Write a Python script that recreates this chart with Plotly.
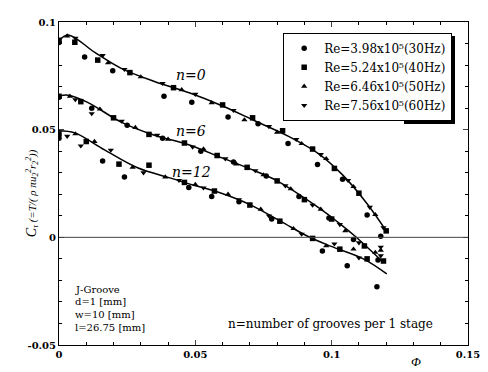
import plotly.graph_objects as go

# ---- data ----
# fitted curves for n = 0, 6, 12
curve_n0_x = [0, 0.0034, 0.013, 0.0228, 0.035, 0.048, 0.060, 0.072, 0.084, 0.095, 0.104, 0.113, 0.120]
curve_n0_y = [0.0914, 0.094, 0.086, 0.0785, 0.0724, 0.067, 0.061, 0.054, 0.047, 0.039, 0.029, 0.0156, 0.003]
curve_n6_x = [0, 0.0034, 0.0105, 0.0228, 0.035, 0.047, 0.060, 0.072, 0.080, 0.0948, 0.102, 0.1086, 0.119]
curve_n6_y = [0.0656, 0.066, 0.0627, 0.0535, 0.0474, 0.0432, 0.0368, 0.0308, 0.0262, 0.0141, 0.0073, 0.0005, -0.0117]
curve_n12_x = [0, 0.0058, 0.0167, 0.0288, 0.041, 0.0494, 0.0585, 0.070, 0.0815, 0.0912, 0.0996, 0.1118, 0.1202]
curve_n12_y = [0.0495, 0.0485, 0.0406, 0.0323, 0.0275, 0.0242, 0.0209, 0.0152, 0.0073, 0.0005, -0.0041, -0.0101, -0.017]

# measured points (n=0, n=6, n=12 concatenated) per Reynolds number
re30_x = [0, 0.0094, 0.0197, 0.0385, 0.0487, 0.062, 0.073, 0.084, 0.0948, 0.104, 0.113, 0.118,
          0, 0.012, 0.025, 0.038, 0.052, 0.064, 0.076, 0.088, 0.099, 0.108, 0.117,
          0, 0.016, 0.024, 0.0476, 0.056, 0.066, 0.078, 0.0966, 0.1057, 0.1166]
re30_y = [0.0905, 0.0838, 0.0774, 0.0655, 0.0627, 0.0559, 0.0527, 0.0436, 0.0338, 0.027, 0.0104, 0.0005,
          0.0650, 0.060, 0.052, 0.046, 0.040, 0.035, 0.0285, 0.019, 0.009, -0.001, -0.0105,
          0.046, 0.0355, 0.028, 0.0232, 0.019, 0.0165, 0.0085, -0.0064, -0.0132, -0.023]
re40_x = [0, 0.0058, 0.0142, 0.026, 0.042, 0.060, 0.071, 0.082, 0.093, 0.101, 0.110, 0.120,
          0, 0.008, 0.020, 0.033, 0.046, 0.058, 0.069, 0.080, 0.090, 0.100, 0.112, 0.119,
          0, 0.010, 0.022, 0.033, 0.046, 0.057, 0.070, 0.081, 0.093, 0.103, 0.113]
re40_y = [0.0915, 0.0906, 0.0823, 0.0765, 0.0695, 0.0615, 0.0555, 0.0495, 0.041, 0.032, 0.0205, 0.003,
          0.0655, 0.063, 0.0555, 0.0478, 0.0438, 0.038, 0.0325, 0.0262, 0.0175, 0.0085, -0.004, -0.011,
          0.048, 0.0445, 0.034, 0.0335, 0.0255, 0.0215, 0.015, 0.0075, -0.0005, -0.0055, -0.010]
re50_x = [0.003, 0.018, 0.030, 0.045, 0.056, 0.068, 0.080, 0.089, 0.098, 0.108, 0.116,
          0.004, 0.015, 0.028, 0.040, 0.053, 0.065, 0.075, 0.085, 0.096, 0.105, 0.116,
          0.006, 0.013, 0.027, 0.039, 0.050, 0.062, 0.074, 0.086, 0.098, 0.108, 0.118]
re50_y = [0.0935, 0.081, 0.0745, 0.0685, 0.0625, 0.0545, 0.0488, 0.0435, 0.0365, 0.0235, 0.0105,
          0.0655, 0.0595, 0.051, 0.0455, 0.041, 0.034, 0.029, 0.0225, 0.013, 0.003, -0.007,
          0.048, 0.0445, 0.0325, 0.028, 0.0245, 0.020, 0.013, 0.004, -0.004, -0.0055, -0.006]
re60_x = [0.006, 0.016, 0.024, 0.038, 0.050, 0.064, 0.077, 0.087, 0.096, 0.106, 0.114, 0.119,
          0.006, 0.012, 0.023, 0.036, 0.049, 0.061, 0.072, 0.083, 0.093, 0.103, 0.110, 0.118,
          0.003, 0.008, 0.019, 0.031, 0.044, 0.053, 0.066, 0.077, 0.089, 0.101, 0.110, 0.118]
re60_y = [0.0925, 0.0845, 0.078, 0.0715, 0.0665, 0.059, 0.0515, 0.0455, 0.0385, 0.0265, 0.014, 0.0045,
          0.064, 0.0575, 0.054, 0.0475, 0.042, 0.0365, 0.031, 0.024, 0.015, 0.006, -0.0025, -0.0085,
          0.047, 0.0425, 0.0405, 0.030, 0.0265, 0.023, 0.0175, 0.010, 0.0015, -0.003, -0.0095, -0.0045]

series_names = ["Re=3.98x10⁵(30Hz)", "Re=5.24x10⁵(40Hz)",
                "Re=6.46x10⁵(50Hz)", "Re=7.56x10⁵(60Hz)"]
series_symbols = ["circle", "square", "triangle-up", "triangle-down"]

curve_labels = ["n=0", "n=6", "n=12"]
curve_label_x = [0.0485, 0.0485, 0.0485]
curve_label_y = [0.0755, 0.0495, 0.0305]

info_lines = ["J-Groove", "d=1 [mm]", "w=10 [mm]", "l=26.75 [mm]"]

SERIF = "DejaVu Serif, serif"
SERIF2 = "Liberation Serif, serif"

fig = go.Figure()
for cx, cy in [(curve_n0_x, curve_n0_y), (curve_n6_x, curve_n6_y), (curve_n12_x, curve_n12_y)]:
    fig.add_trace(go.Scatter(x=cx, y=cy, mode="lines", line=dict(color="black", width=1.5, shape="spline"),
                             showlegend=False, hoverinfo="skip"))

xs_all = [re30_x, re40_x, re50_x, re60_x]
ys_all = [re30_y, re40_y, re50_y, re60_y]

# drop shadow of the legend: a black legend with the same row count, right-aligned 3px to the
# right and 3px lower than the real legend (entries are blank so no text is duplicated)
for sym, xs, ys in zip(series_symbols, xs_all, ys_all):
    fig.add_trace(go.Scatter(x=xs, y=ys, mode="markers", name="\u00a0", legend="legend",
                             visible="legendonly", hoverinfo="skip",
                             marker=dict(symbol=sym, size=5.5, color="black")))

for name, sym, xs, ys in zip(series_names, series_symbols, xs_all, ys_all):
    fig.add_trace(go.Scatter(x=xs, y=ys, mode="markers", name=name, legend="legend2",
                             marker=dict(symbol=sym, size=5.5, color="black")))

# zero line
fig.add_shape(type="line", xref="x", yref="y", x0=0, x1=0.15, y0=0, y1=0,
              line=dict(color="#444", width=1))

LX, LY = 0.9613, 0.9666
# page body has an 8px margin: shrink figure so plot area lands at x 59..472, y 16..345
fig.update_layout(
    width=480, height=364,
    margin=dict(l=51, r=16, t=8, b=27),
    paper_bgcolor="white", plot_bgcolor="white",
    font=dict(family=SERIF, color="black", size=11),
    legend=dict(x=LX + 3 / 413, y=LY - 3 / 329, xanchor="right", yanchor="top",
                bgcolor="black", bordercolor="black", borderwidth=1,
                font=dict(family=SERIF, size=12, color="black"), tracegroupgap=0, itemwidth=30),
    legend2=dict(x=LX, y=LY, xanchor="right", yanchor="top",
                 bgcolor="white", bordercolor="black", borderwidth=1,
                 font=dict(family=SERIF, size=12), tracegroupgap=0, itemwidth=30),
    showlegend=True,
)
fig.update_xaxes(range=[0, 0.15], tickvals=[0, 0.05, 0.1, 0.15], ticktext=["0", "0.05", "0.1", "0.15"],
                 showline=True, linecolor="black", linewidth=1, mirror="ticks", ticks="inside", ticklen=5,
                 showgrid=False, zeroline=False,
                 tickfont=dict(family=SERIF, size=10, weight="bold"),
                 minor=dict(dtick=0.01, ticks="inside", ticklen=3, tickcolor="black", showgrid=False))
fig.update_yaxes(range=[-0.05, 0.1], tickvals=[-0.05, 0, 0.05, 0.1], ticktext=["-0.05", "0", "0.05", "0.1"],
                 showline=True, linecolor="black", linewidth=1, mirror="ticks", ticks="inside", ticklen=5,
                 showgrid=False, zeroline=False,
                 tickfont=dict(family=SERIF, size=10, weight="bold"),
                 minor=dict(dtick=0.01, ticks="inside", ticklen=3, tickcolor="black", showgrid=False))

for t, x, y in zip(curve_labels, curve_label_x, curve_label_y):
    fig.add_annotation(xref="x", yref="y", x=x, y=y, text="<i>" + t + "</i>", showarrow=False,
                       font=dict(family=SERIF, size=14))

for i, t in enumerate(info_lines):
    fig.add_annotation(xref="paper", yref="paper", x=0.034, y=0.1733 - i * 0.0395, xanchor="left",
                       yanchor="middle", showarrow=False, text=t, font=dict(family=SERIF, size=10))
fig.add_annotation(xref="paper", yref="paper", x=0.92, y=0.064, xanchor="right", yanchor="middle",
                   showarrow=False, text="n=number of grooves per 1 stage",
                   font=dict(family=SERIF, size=12))
fig.add_annotation(xref="paper", yref="paper", x=0.874, y=-0.052, xanchor="center", yanchor="middle",
                   showarrow=False, text="<i>Φ</i>", font=dict(family=SERIF2, size=13))
fig.add_annotation(xref="paper", yref="paper", x=-0.066, y=0.47, xanchor="center", yanchor="middle",
                   showarrow=False, textangle=-90,
                   text="<i><span style='font-size:14px'>C</span><sub>τ</sub> (=T/( ρ πu<sub>2</sub><sup>2</sup>r<sub>2</sub><sup>2</sup>))</i>",
                   font=dict(family=SERIF2, size=11))

fig.write_html("out.html")
